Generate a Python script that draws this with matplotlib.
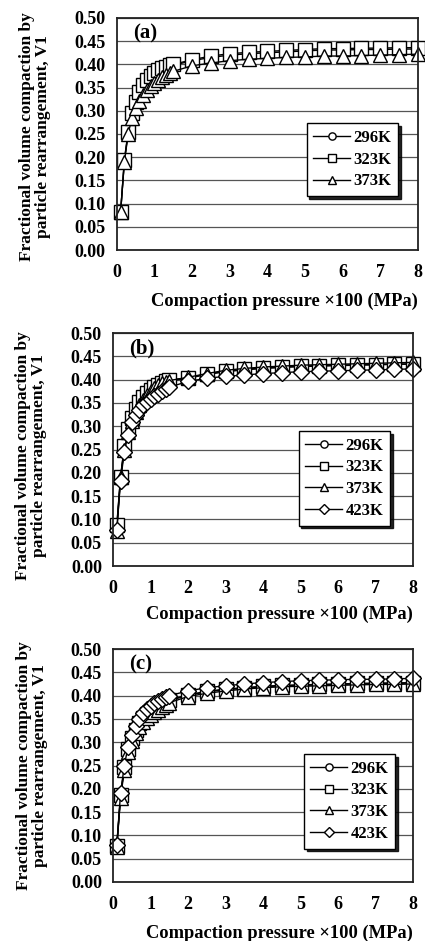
import matplotlib
matplotlib.use("Agg")
import matplotlib.pyplot as plt

plt.rcParams['font.family'] = ['Liberation Serif', 'DejaVu Serif']
plt.rcParams['font.weight'] = 'bold'

# compaction pressure x100 (MPa)
pressure = [0.1, 0.2, 0.3, 0.4, 0.5, 0.6, 0.7, 0.8, 0.9, 1.0, 1.1, 1.2, 1.3, 1.4, 1.5,
            2.0, 2.5, 3.0, 3.5, 4.0, 4.5, 5.0, 5.5, 6.0, 6.5, 7.0, 7.5, 8.0]

# panel (a)
a_296 = [0.083, 0.193, 0.253, 0.292, 0.317, 0.336, 0.351, 0.362, 0.372, 0.379, 0.385, 0.389, 0.393, 0.396, 0.398,
         0.408, 0.415, 0.420, 0.423, 0.425, 0.427, 0.429, 0.431, 0.431, 0.432, 0.432, 0.433, 0.433]
a_323 = [0.083, 0.195, 0.255, 0.295, 0.320, 0.340, 0.355, 0.366, 0.375, 0.382, 0.388, 0.392, 0.395, 0.398, 0.400,
         0.410, 0.418, 0.423, 0.426, 0.428, 0.430, 0.432, 0.434, 0.434, 0.435, 0.435, 0.436, 0.436]
a_373 = [0.083, 0.190, 0.250, 0.285, 0.305, 0.322, 0.335, 0.345, 0.353, 0.360, 0.366, 0.372, 0.377, 0.381, 0.385,
         0.397, 0.403, 0.408, 0.411, 0.413, 0.415, 0.416, 0.418, 0.418, 0.419, 0.420, 0.421, 0.422]

# panel (b)
b_296 = [0.085, 0.190, 0.255, 0.292, 0.316, 0.334, 0.348, 0.359, 0.368, 0.375, 0.381, 0.386, 0.390, 0.394, 0.397,
         0.403, 0.411, 0.417, 0.421, 0.424, 0.426, 0.428, 0.429, 0.430, 0.431, 0.432, 0.433, 0.433]
b_323 = [0.088, 0.192, 0.257, 0.294, 0.318, 0.337, 0.351, 0.362, 0.371, 0.378, 0.384, 0.389, 0.393, 0.396, 0.399,
         0.404, 0.412, 0.418, 0.422, 0.425, 0.427, 0.429, 0.430, 0.431, 0.432, 0.432, 0.433, 0.434]
b_373 = [0.075, 0.190, 0.250, 0.287, 0.312, 0.330, 0.345, 0.357, 0.367, 0.375, 0.382, 0.388, 0.392, 0.395, 0.398,
         0.405, 0.413, 0.420, 0.424, 0.427, 0.429, 0.431, 0.432, 0.433, 0.434, 0.435, 0.436, 0.437]
b_423 = [0.078, 0.183, 0.245, 0.282, 0.308, 0.323, 0.335, 0.345, 0.352, 0.358, 0.364, 0.370, 0.375, 0.380, 0.384,
         0.396, 0.403, 0.407, 0.410, 0.413, 0.415, 0.417, 0.418, 0.419, 0.420, 0.421, 0.422, 0.423]

# panel (c)
c_296 = [0.078, 0.185, 0.245, 0.284, 0.308, 0.326, 0.340, 0.351, 0.360, 0.367, 0.373, 0.378, 0.382, 0.386, 0.389,
         0.401, 0.408, 0.413, 0.416, 0.419, 0.421, 0.422, 0.423, 0.424, 0.425, 0.426, 0.426, 0.427]
c_323 = [0.078, 0.186, 0.246, 0.285, 0.309, 0.327, 0.341, 0.352, 0.361, 0.368, 0.374, 0.379, 0.383, 0.387, 0.390,
         0.402, 0.409, 0.414, 0.417, 0.420, 0.422, 0.423, 0.424, 0.425, 0.426, 0.427, 0.427, 0.428]
c_373 = [0.075, 0.180, 0.240, 0.280, 0.303, 0.320, 0.333, 0.343, 0.351, 0.358, 0.364, 0.370, 0.375, 0.380, 0.385,
         0.398, 0.405, 0.410, 0.414, 0.417, 0.419, 0.420, 0.421, 0.422, 0.423, 0.424, 0.424, 0.425]
c_423 = [0.080, 0.190, 0.250, 0.290, 0.315, 0.335, 0.350, 0.362, 0.372, 0.378, 0.384, 0.389, 0.393, 0.397, 0.400,
         0.410, 0.417, 0.421, 0.425, 0.428, 0.430, 0.432, 0.433, 0.434, 0.435, 0.435, 0.436, 0.437]

temps = ['296K', '323K', '373K', '423K']
markers = ['o', 's', '^', 'D']
panels = [
    ('(a)', [a_296, a_323, a_373]),
    ('(b)', [b_296, b_323, b_373, b_423]),
    ('(c)', [c_296, c_323, c_373, c_423]),
]

yticks = [0.0, 0.05, 0.10, 0.15, 0.20, 0.25, 0.30, 0.35, 0.40, 0.45, 0.50]
xticks = [0, 1, 2, 3, 4, 5, 6, 7, 8]

fig = plt.figure(figsize=(4.25, 9.41), dpi=100)
# axes boxes in figure fractions
boxes = [[0.275, 0.7343, 0.708, 0.2466],
         [0.266, 0.3985, 0.706, 0.2476],
         [0.266, 0.0627, 0.706, 0.2476]]
ylab_pos = [(-0.22, 0.49), (-0.22, 0.475), (-0.217, 0.498)]
xlab_y = [-0.183, -0.17, -0.183]
leg_pos = [(0.934, 0.547), (0.923, 0.58), (0.94, 0.55)]

for i, (tag, series) in enumerate(panels):
    ax = fig.add_axes(boxes[i])
    for j, vals in enumerate(series):
        ms = 9.5 if markers[j] != 'D' else 8.5
        ax.plot(pressure, vals, '-', marker=markers[j], color='black', lw=1.0,
                mfc='white', mec='black', mew=1.0, ms=ms, label=temps[j], clip_on=False)
    ax.set_xlim(0, 8)
    ax.set_ylim(0, 0.5)
    ax.set_xticks(xticks)
    ax.set_yticks(yticks)
    ax.set_yticklabels([f'{v:.2f}' for v in yticks])
    ax.tick_params(axis='both', length=0, labelsize=13)
    ax.tick_params(axis='x', pad=10)
    ax.tick_params(axis='y', pad=8)
    ax.yaxis.grid(True, color='#555555', lw=0.9)
    ax.set_axisbelow(True)
    for sp in ax.spines.values():
        sp.set_linewidth(1.3)
        sp.set_color('#222222')
    ax.text(0.053, 0.935, tag, transform=ax.transAxes, fontsize=15, fontweight='bold',
            ha='left', va='center')
    ax.set_ylabel('Fractional volume compaction by\nparticle rearrangement, V1',
                  fontsize=12.5, fontweight='bold', linespacing=1.0)
    ax.yaxis.set_label_coords(*ylab_pos[i])
    ax.set_xlabel('Compaction pressure \u00d7100 (MPa)', fontsize=13.3, fontweight='bold', ha='right')
    ax.xaxis.set_label_coords(1.0, xlab_y[i])
    leg = ax.legend(loc='upper right', bbox_to_anchor=leg_pos[i], fontsize=12, frameon=True,
                    fancybox=False, shadow={'color': 'black', 'alpha': 0.85, 'ox': 2, 'oy': -2},
                    handlelength=2.2, borderpad=0.4, markerscale=0.55,
                    labelspacing=0.35, handletextpad=0.2, borderaxespad=0)
    leg.get_frame().set_edgecolor('black')
    leg.get_frame().set_linewidth(1.0)

fig.savefig('out.png', dpi=100)
